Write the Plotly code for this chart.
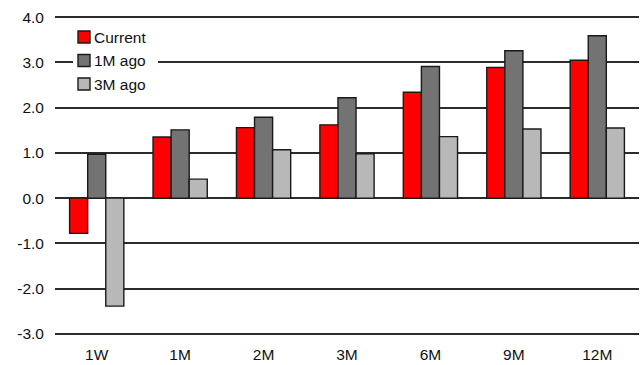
import plotly.graph_objects as go

# Horizons on the x axis
categories = ["1W", "1M", "2M", "3M", "6M", "9M", "12M"]

# Series values per horizon
current = [-0.78, 1.35, 1.56, 1.62, 2.34, 2.89, 3.05]
one_month_ago = [0.97, 1.51, 1.79, 2.22, 2.91, 3.26, 3.59]
three_months_ago = [-2.39, 0.42, 1.07, 0.98, 1.36, 1.53, 1.55]

series_names = ["Current", "1M ago", "3M ago"]
series_values = [current, one_month_ago, three_months_ago]
series_colors = ["#FF0000", "#737373", "#B8B8B8"]

y_ticks = [-3, -2, -1, 0, 1, 2, 3, 4]
y_tick_labels = ["-3.0", "-2.0", "-1.0", "0.0", "1.0", "2.0", "3.0", "4.0"]

W, H = 641, 365
M_L, M_R, M_T, M_B = 55, 2, 15, 29
PLOT_W = W - M_L - M_R
PLOT_H = H - M_T - M_B

FONT = "Liberation Sans, Arial, sans-serif"
FONT_SIZE = 15.5
TEXT_COLOR = "#111111"
GRID_COLOR = "#2b2b2b"
EDGE_COLOR = "#1a1a1a"


def px_x(px):
    return (px - M_L) / PLOT_W


def px_y(py):
    return 1 - (py - M_T) / PLOT_H


fig = go.Figure()
for name, vals, color in zip(series_names, series_values, series_colors):
    fig.add_trace(go.Bar(
        x=categories, y=vals, name=name,
        marker=dict(color=color, line=dict(color=EDGE_COLOR, width=1.4)),
        showlegend=False,
    ))

# Legend drawn as a white box with swatches and labels
shapes = [dict(
    type="rect", xref="paper", yref="paper", layer="above",
    x0=px_x(73), x1=px_x(158), y0=px_y(96), y1=px_y(26),
    fillcolor="white", line=dict(width=0),
)]
annotations = []
row_y = [37, 60.5, 84]
for name, color, cy in zip(series_names, series_colors, row_y):
    shapes.append(dict(
        type="rect", xref="paper", yref="paper", layer="above",
        x0=px_x(78), x1=px_x(90), y0=px_y(cy + 6), y1=px_y(cy - 6),
        fillcolor=color, line=dict(color=EDGE_COLOR, width=1.4),
    ))
    annotations.append(dict(
        xref="paper", yref="paper", x=px_x(92), y=px_y(cy),
        xanchor="left", yanchor="middle", showarrow=False,
        text=name, font=dict(family=FONT, size=FONT_SIZE, color=TEXT_COLOR),
    ))

fig.update_layout(
    width=W, height=H,
    margin=dict(l=M_L, r=M_R, t=M_T, b=M_B),
    paper_bgcolor="white", plot_bgcolor="white",
    barmode="group", bargap=0.35, bargroupgap=0,
    font=dict(family=FONT, size=FONT_SIZE, color=TEXT_COLOR),
    shapes=shapes, annotations=annotations,
    showlegend=False,
)
fig.update_xaxes(
    showgrid=False, showline=False, zeroline=False, ticks="",
    tickfont=dict(family=FONT, size=FONT_SIZE, color=TEXT_COLOR),
    ticklabelstandoff=7,
)
fig.update_yaxes(
    range=[-3.05, 4.05], tickvals=y_ticks, ticktext=y_tick_labels,
    showgrid=True, gridcolor=GRID_COLOR, gridwidth=1.5,
    zeroline=True, zerolinecolor=GRID_COLOR, zerolinewidth=1.5,
    showline=False, ticks="", ticklabelstandoff=10,
    tickfont=dict(family=FONT, size=FONT_SIZE, color=TEXT_COLOR),
)

fig.write_html("out.html")
